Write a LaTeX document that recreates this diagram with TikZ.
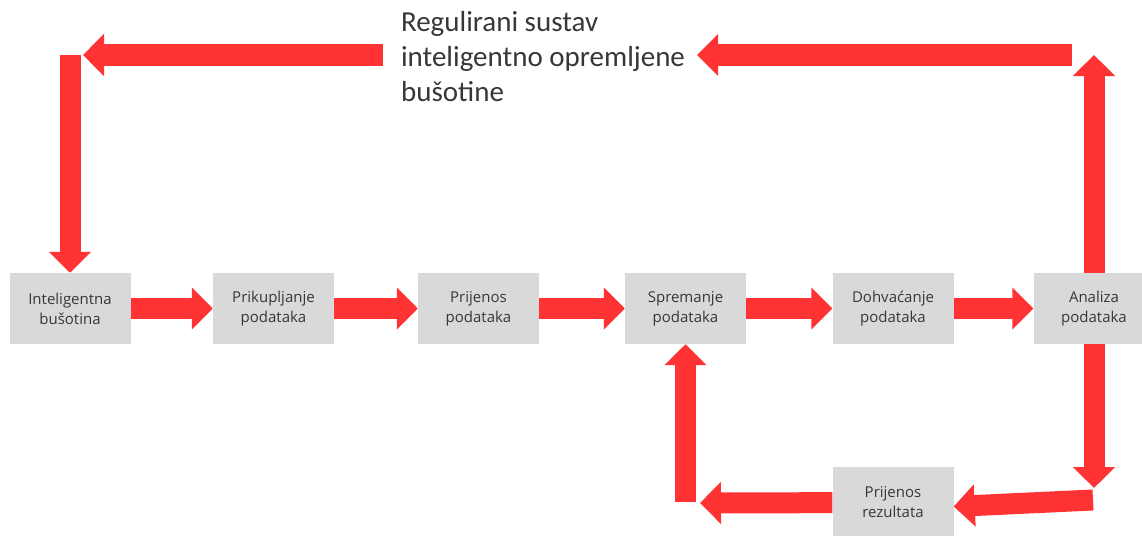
\documentclass[tikz,border=0pt]{standalone}
\usepackage{fontspec}
\setmainfont{Open Sans}
\newfontfamily\titlefont{Carlito}
\usetikzlibrary{arrows.meta}

\definecolor{arrred}{RGB}{255,51,51}
\definecolor{boxgray}{RGB}{217,217,217}
\definecolor{txtgray}{RGB}{55,55,55}

\begin{document}
\begin{tikzpicture}[x=1pt,y=-1pt]
\useasboundingbox (0,0) rectangle (1142,535);

\begin{scope}[every node/.style={rectangle,fill=boxgray,text=txtgray,minimum width=121pt,minimum height=71pt,align=center,font=\fontsize{15}{20}\selectfont}]
    \node (intbus) at (70,308.5) {Inteligentna\\bušotina};
    \node (prikup) at (273.5,308.5) {Prikupljanje\\podataka};
    \node (prijpod) at (478.5,308.5) {Prijenos\\podataka};
    \node (spremanje) at (685.5,308.5) {Spremanje\\podataka};
    \node (dohvat) at (893,308.5) {Dohvaćanje\\podataka};
    \node (analiza) at (1094,308.5) {Analiza\\podataka};
    \node (prijrez) at (893,502.5) {Prijenos\\rezultata};
\end{scope}

\node (regsys) at (543,57) [font=\titlefont\fontsize{29}{35}\selectfont,text=txtgray,align=left,inner xsep=12pt,inner ysep=0pt] {Regulirani sustav\\inteligentno opremljene\\bušotine};

% corners of the loops
\coordinate (ltip) at (83,55);
\coordinate (lcorner) at (70,55);
\coordinate (rtop) at (1072,55);
\coordinate (rtip) at (1094,55);
\coordinate (rbot) at (1094,488);
\coordinate (rslant) at (1093,500);
\coordinate (lbot) at (700,503);
\coordinate (lup) at (685.5,502);

\begin{scope}[>={Triangle[length=21pt,width=41pt]},
              every edge/.style={draw=arrred,line width=21pt}]
    \path [->] (intbus) edge (prikup);
    \path [->] (prikup) edge (prijpod);
    \path [->] (prijpod) edge (spremanje);
    \path [->] (spremanje) edge (dohvat);
    \path [->] (dohvat) edge (analiza);

    \path [->] (analiza) edge (rtip);
    \path [->] (rtop) edge (rtop -| regsys.east);
    \path [->] ([xshift=-6pt]ltip -| regsys.west) edge (ltip);
    \path [->] (lcorner) edge (intbus);

    \path [->] (analiza) edge (rbot);
    \path [->] (rslant) edge ([yshift=-4pt]prijrez.east);
    \path [->] (prijrez) edge (lbot);
    \path [->] (lup) edge (spremanje);
\end{scope}
\end{tikzpicture}
\end{document}
